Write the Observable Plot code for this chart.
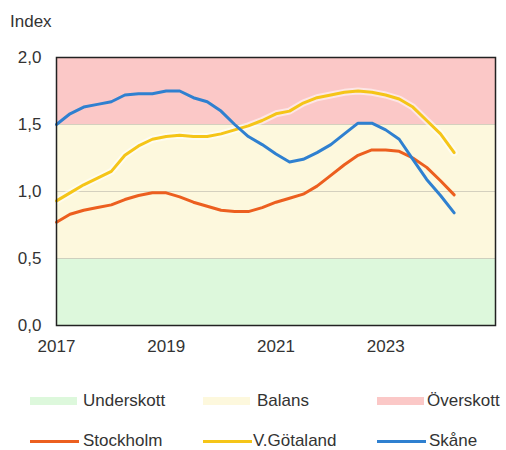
<!DOCTYPE html>
<html>
<head>
<meta charset="utf-8">
<script src="https://cdn.jsdelivr.net/npm/d3@7"></script>
<script src="https://cdn.jsdelivr.net/npm/@observablehq/plot@0.6"></script>
<style>
  html, body { margin: 0; padding: 0; background: #fff; }
  body { font-family: "Liberation Sans", Arial, sans-serif; color: #333; }
  #wrap { position: relative; width: 506px; height: 450px; overflow: hidden; }
  #ylabel { position: absolute; left: 10px; top: 12px; font-size: 17px; line-height: 20px; }
  #chart { position: absolute; left: 0; top: 0; }
  .leg { position: absolute; font-size: 17px; line-height: 20px; white-space: nowrap; }
  .sw { position: absolute; }
</style>
</head>
<body>
<div id="wrap">
  <div id="chart"></div>
  <div id="ylabel">Index</div>
  <div id="legend"></div>
</div>
<script>
// ---- data (quarterly) ----
const quarters = [
  "2017-01-01","2017-04-01","2017-07-01","2017-10-01",
  "2018-01-01","2018-04-01","2018-07-01","2018-10-01",
  "2019-01-01","2019-04-01","2019-07-01","2019-10-01",
  "2020-01-01","2020-04-01","2020-07-01","2020-10-01",
  "2021-01-01","2021-04-01","2021-07-01","2021-10-01",
  "2022-01-01","2022-04-01","2022-07-01","2022-10-01",
  "2023-01-01","2023-04-01","2023-07-01","2023-10-01",
  "2024-01-01","2024-04-01"
];
const stockholm = [0.77,0.83,0.86,0.88,0.90,0.94,0.97,0.99,0.99,0.96,0.92,0.89,0.86,0.85,0.85,0.88,0.92,0.95,0.98,1.04,1.12,1.20,1.27,1.31,1.31,1.30,1.25,1.18,1.08,0.975];
const vgotaland = [0.93,0.99,1.05,1.10,1.15,1.27,1.34,1.39,1.41,1.42,1.41,1.41,1.43,1.46,1.49,1.53,1.58,1.60,1.66,1.70,1.72,1.74,1.75,1.74,1.72,1.69,1.63,1.53,1.43,1.29];
const skane     = [1.50,1.58,1.63,1.65,1.67,1.72,1.73,1.73,1.75,1.75,1.70,1.67,1.60,1.50,1.41,1.35,1.28,1.22,1.24,1.29,1.35,1.43,1.51,1.51,1.46,1.39,1.24,1.09,0.97,0.84];

const bandNames = ["Underskott","Balans","Överskott"];
const bandFrom  = [0, 0.5, 1.5];
const bandTo    = [0.5, 1.5, 2.0];
const bandColors = ["#ddf8dc","#fdf8dd","#fbc8c7"];

const seriesNames  = ["Stockholm","V.Götaland","Skåne"];
const seriesColors = ["#ec5f1f","#f5c518","#2f80d0"];

const yTicks = [0, 0.5, 1.0, 1.5, 2.0];
const xTickYears = ["2017","2019","2021","2023"];
const gridValues = [0.5, 1.0, 1.5];

// ---- build tables ----
const parse = d3.utcParse("%Y-%m-%d");
const seriesValues = [stockholm, vgotaland, skane];
const rows = [];
seriesNames.forEach((name, s) => {
  quarters.forEach((q, i) => rows.push({date: parse(q), value: seriesValues[s][i], series: name}));
});
const bands = bandNames.map((n, i) => ({name: n, y1: bandFrom[i], y2: bandTo[i], color: bandColors[i]}));
const xTicks = xTickYears.map(y => parse(y + "-01-01"));
const fmtComma = d => d3.format(".1f")(d).replace(".", ",");

const chart = Plot.plot({
  width: 506,
  height: 365,
  marginTop: 57,
  marginLeft: 56,
  marginRight: 11,
  marginBottom: 40,
  style: {fontFamily: "'Liberation Sans', Arial, sans-serif", fontSize: "17px", color: "#333", background: "transparent"},
  x: {type: "utc", domain: [parse("2017-01-01"), parse("2025-01-01")], ticks: xTicks, tickFormat: d3.utcFormat("%Y"), tickSize: 0, tickPadding: 14, label: null},
  y: {domain: [0, 2], ticks: yTicks, tickFormat: fmtComma, tickSize: 0, tickPadding: 15, label: null},
  color: {domain: seriesNames, range: seriesColors},
  marks: [
    Plot.rect(bands, {y1: "y1", y2: "y2", fill: "color"}),
    Plot.ruleY(gridValues, {stroke: "#c9c6b6", strokeWidth: 1, strokeOpacity: 0.8}),
    Plot.line(rows.filter(r => r.series === "V.Götaland"), {x: "date", y: "value", stroke: "#ffffff", strokeWidth: 7, strokeOpacity: 0.55}),
    Plot.line(rows, {x: "date", y: "value", z: "series", stroke: "series", strokeWidth: 3}),
    Plot.frame({stroke: "#222", strokeWidth: 1.5})
  ]
});
document.getElementById("chart").appendChild(chart);

// ---- legend ----
const legend = document.getElementById("legend");
const colX = [30, 203, 377];
const textX = [83, 257, 427];
bands.forEach((b, i) => {
  const sw = document.createElement("div");
  sw.className = "sw";
  Object.assign(sw.style, {left: colX[i] + "px", top: "397px", width: "47px", height: "8px", background: b.color});
  legend.appendChild(sw);
  const t = document.createElement("div");
  t.className = "leg";
  Object.assign(t.style, {left: textX[i] + "px", top: "391px"});
  t.textContent = b.name;
  legend.appendChild(t);
});
const textX2 = [83, 253, 429];
seriesNames.forEach((n, i) => {
  const sw = document.createElement("div");
  sw.className = "sw";
  Object.assign(sw.style, {left: colX[i] + "px", top: "440px", width: "49px", height: "3px", background: seriesColors[i]});
  legend.appendChild(sw);
  const t = document.createElement("div");
  t.className = "leg";
  Object.assign(t.style, {left: textX2[i] + "px", top: "431px"});
  t.textContent = n;
  legend.appendChild(t);
});
</script>
</body>
</html>
